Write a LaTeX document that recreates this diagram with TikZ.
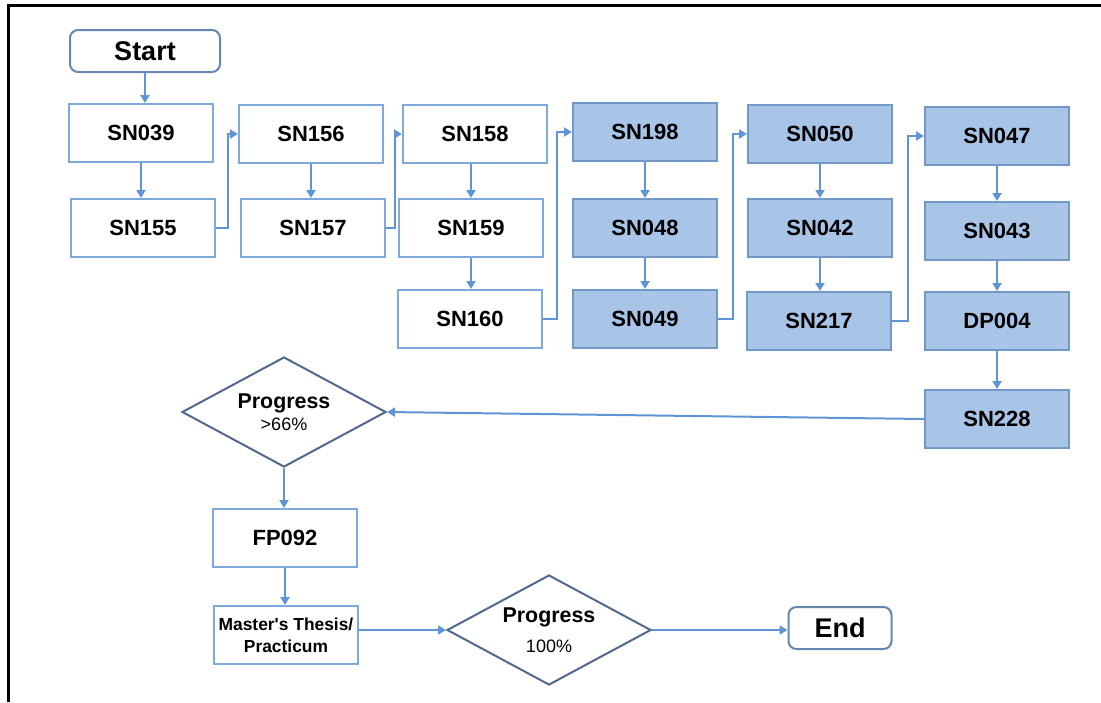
\documentclass[tikz,border=0pt]{standalone}
\usepackage{fontspec}
\setmainfont{Liberation Sans}
\usetikzlibrary{shapes.geometric,arrows.meta}
\definecolor{pathblue}{HTML}{5F95D6}
\definecolor{boxline}{HTML}{7FA9DC}
\definecolor{boxfill}{HTML}{A8C5E8}
\definecolor{gateline}{HTML}{50698C}
\tikzset{
  cbox/.style={draw=boxline, line width=1pt, fill=white, minimum width=72pt,
    minimum height=29pt, inner sep=2pt, font=\bfseries\fontsize{11}{13}\selectfont},
  sbox/.style={cbox, fill=boxfill, draw=boxline!90!black},
  term/.style={draw=boxline!80!black, line width=1pt, rounded corners=4pt,
    minimum height=21pt, font=\bfseries\fontsize{13.5}{16}\selectfont},
  gate/.style={diamond, draw=gateline, line width=1pt, aspect=1.85, inner sep=0pt,
    minimum width=102pt, minimum height=55pt, align=center},
  flow/.style={-{Triangle[length=4pt,width=4.5pt]}, line width=1pt, draw=pathblue},
}

\begin{document}
\begin{tikzpicture}[x=0.5pt, y=-0.5pt]
  \useasboundingbox (0,0) rectangle (1101,702);
  \draw[line width=1.5pt] (8,702) -- (8,5) -- (1101,5);

  \node[term, minimum width=75pt] (start) at (145,51) {Start};

  % first block of courses
  \node[cbox] (sn039) at (141,133) {SN039};
  \node[cbox] (sn155) at (143,228) {SN155};
  \node[cbox] (sn156) at (311,134) {SN156};
  \node[cbox] (sn157) at (313,228) {SN157};
  \node[cbox] (sn158) at (475,134) {SN158};
  \node[cbox] (sn159) at (471,228) {SN159};
  \node[cbox] (sn160) at (470,319) {SN160};

  % shaded block
  \node[sbox] (sn198) at (645,132) {SN198};
  \node[sbox] (sn048) at (645,228) {SN048};
  \node[sbox] (sn049) at (645,319) {SN049};
  \node[sbox] (sn050) at (820,134) {SN050};
  \node[sbox] (sn042) at (820,228) {SN042};
  \node[sbox] (sn217) at (819,321) {SN217};
  \node[sbox] (sn047) at (997,136) {SN047};
  \node[sbox] (sn043) at (997,231) {SN043};
  \node[sbox] (dp004) at (997,321) {DP004};
  \node[sbox] (sn228) at (997,419) {SN228};

  \node[gate] (gate66) at (284,412)
    {{\bfseries\fontsize{10.7}{13}\selectfont Progress}\\[-1pt]{\fontsize{9}{11}\selectfont >66\%}};
  \node[cbox] (fp092) at (285,538) {FP092};
  \node[cbox, font=\bfseries\fontsize{8.7}{11}\selectfont, align=center] (thesis) at (286,635)
    {Master\textquotesingle s Thesis/\\Practicum};
  \node[gate] (gate100) at (549,630)
    {{\bfseries\fontsize{10.7}{13}\selectfont Progress}\\[3pt]{\fontsize{9}{11}\selectfont 100\%}};
  \node[term, minimum width=51.5pt] (end) at (840,628) {End};

  % connectors
  \draw[flow] (start) -- (start |- sn039.north);
  \draw[flow] (sn039) -- (sn039 |- sn155.north);
  \draw[flow] (sn155.east) -- ++(12,0) |- (sn156.west);
  \draw[flow] (sn156) -- (sn156 |- sn157.north);
  \draw[flow] (sn157.east) -- ++(9,0) |- (sn158.west);
  \draw[flow] (sn158.south -| sn159) -- (sn159);
  \draw[flow] (sn159) -- (sn159 |- sn160.north);
  \draw[flow] (sn160.east) -- ++(14,0) |- (sn198.west);
  \draw[flow] (sn198) -- (sn048);
  \draw[flow] (sn048) -- (sn049);
  \draw[flow] (sn049.east) -- ++(15,0) |- (sn050.west);
  \draw[flow] (sn050) -- (sn042);
  \draw[flow] (sn042) -- (sn042 |- sn217.north);
  \draw[flow] (sn217.east) -- ++(16,0) |- (sn047.west);
  \draw[flow] (sn047) -- (sn043);
  \draw[flow] (sn043) -- (dp004);
  \draw[flow] (dp004) -- (sn228);
  \draw[flow] (sn228.west) -- (gate66.east);
  \draw[flow] (gate66) -- (gate66 |- fp092.north);
  \draw[flow] (fp092) -- (fp092 |- thesis.north);
  \draw[flow] (thesis.east |- gate100.west) -- (gate100.west);
  \draw[flow] (gate100.east) -- (end.west |- gate100.east);
\end{tikzpicture}
\end{document}
